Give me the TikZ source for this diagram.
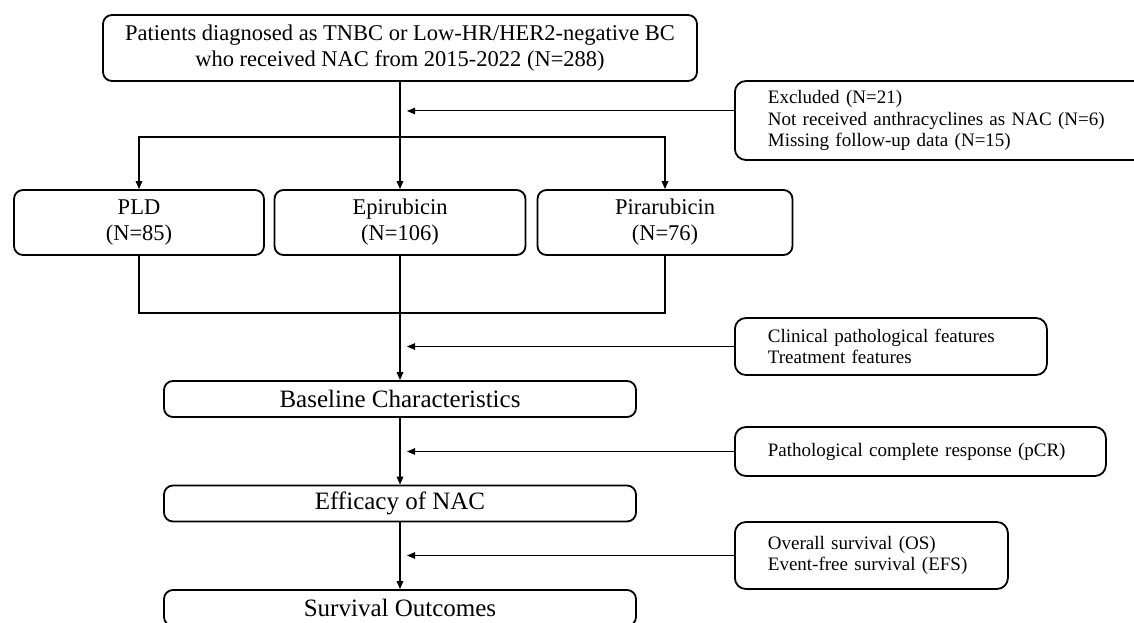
\documentclass[tikz,border=0pt]{standalone}
\usepackage{fontspec}
\setmainfont{Liberation Serif}
\usetikzlibrary{arrows.meta}

\begin{document}
\begin{tikzpicture}[x=1pt,y=-1pt,
    box/.style={draw, line width=1.8pt, rounded corners=9pt, align=center, inner sep=0pt, font=\fontsize{22.5}{26}\selectfont},
    stage/.style={box, minimum width=472pt, minimum height=36pt, font=\fontsize{25}{30}\selectfont},
    note/.style={draw, line width=1.8pt, rounded corners=11pt, align=left, anchor=west, inner xsep=33pt, inner ysep=0pt, font=\fontsize{19}{21.5}\selectfont},
    flow/.style={line width=1.6pt, -{Triangle[length=8pt,width=6.5pt]}},
    feed/.style={line width=1pt, -{Triangle[length=8pt,width=6.5pt]}}]

    % Page frame
    \useasboundingbox (0,0) rectangle (1134,623);

    % Cohort
    \node[box, minimum width=594pt, minimum height=66pt] (start) at (400,48) {Patients diagnosed as TNBC or Low-HR/HER2-negative BC\\who received NAC from 2015-2022 (N=288)};
    \node[note, text width=348pt, minimum height=79pt] (excl) at (734,120.5) {Excluded (N=21)\\Not received anthracyclines as NAC (N=6)\\Missing follow-up data (N=15)};

    % Treatment groups
    \node[box, minimum width=250pt, minimum height=65pt] (pld) at (139,222.5) {PLD\\(N=85)};
    \node[box, minimum width=251pt, minimum height=65pt] (epi) at (400,222.5) {Epirubicin\\(N=106)};
    \node[box, minimum width=255pt, minimum height=65pt] (pir) at (665,222.5) {Pirarubicin\\(N=76)};

    % Analyses
    \node[stage] (base) at (400,399) {Baseline Characteristics};
    \node[stage] (eff) at (400,503.5) {Efficacy of NAC};
    \node[stage] (surv) at (400,608) {Survival Outcomes};

    \node[note, text width=246pt, minimum height=57pt] (clin) at (734,346.5) {Clinical pathological features\\Treatment features};
    \node[note, text width=305pt, minimum height=49pt] (pcr) at (734,451.5) {Pathological complete response (pCR)};
    \node[note, text width=207pt, minimum height=67pt] (os) at (734,555.5) {Overall survival (OS)\\Event-free survival (EFS)};

    \coordinate (split) at (400,137);
    \coordinate (merge) at (400,313);
    \coordinate (tip) at (407,111);

    % Draw connectors
    \draw[flow] (start.south) -- (epi.north);
    \draw[flow] (split) -| (pld.north);
    \draw[flow] (split) -| (pir.north);
    \draw[line width=1.6pt] (pld.south) |- (merge) -| (pir.south);
    \draw[flow] (epi.south) -- (base.north);
    \draw[flow] (base.south) -- (eff.north);
    \draw[flow] (eff.south) -- (surv.north);

    % Side arrows
    \draw[feed] (tip -| excl.west) -- (tip);
    \draw[feed] (clin.west) -- (clin.west -| tip);
    \draw[feed] (pcr.west) -- (pcr.west -| tip);
    \draw[feed] (os.west) -- (os.west -| tip);
\end{tikzpicture}
\end{document}
